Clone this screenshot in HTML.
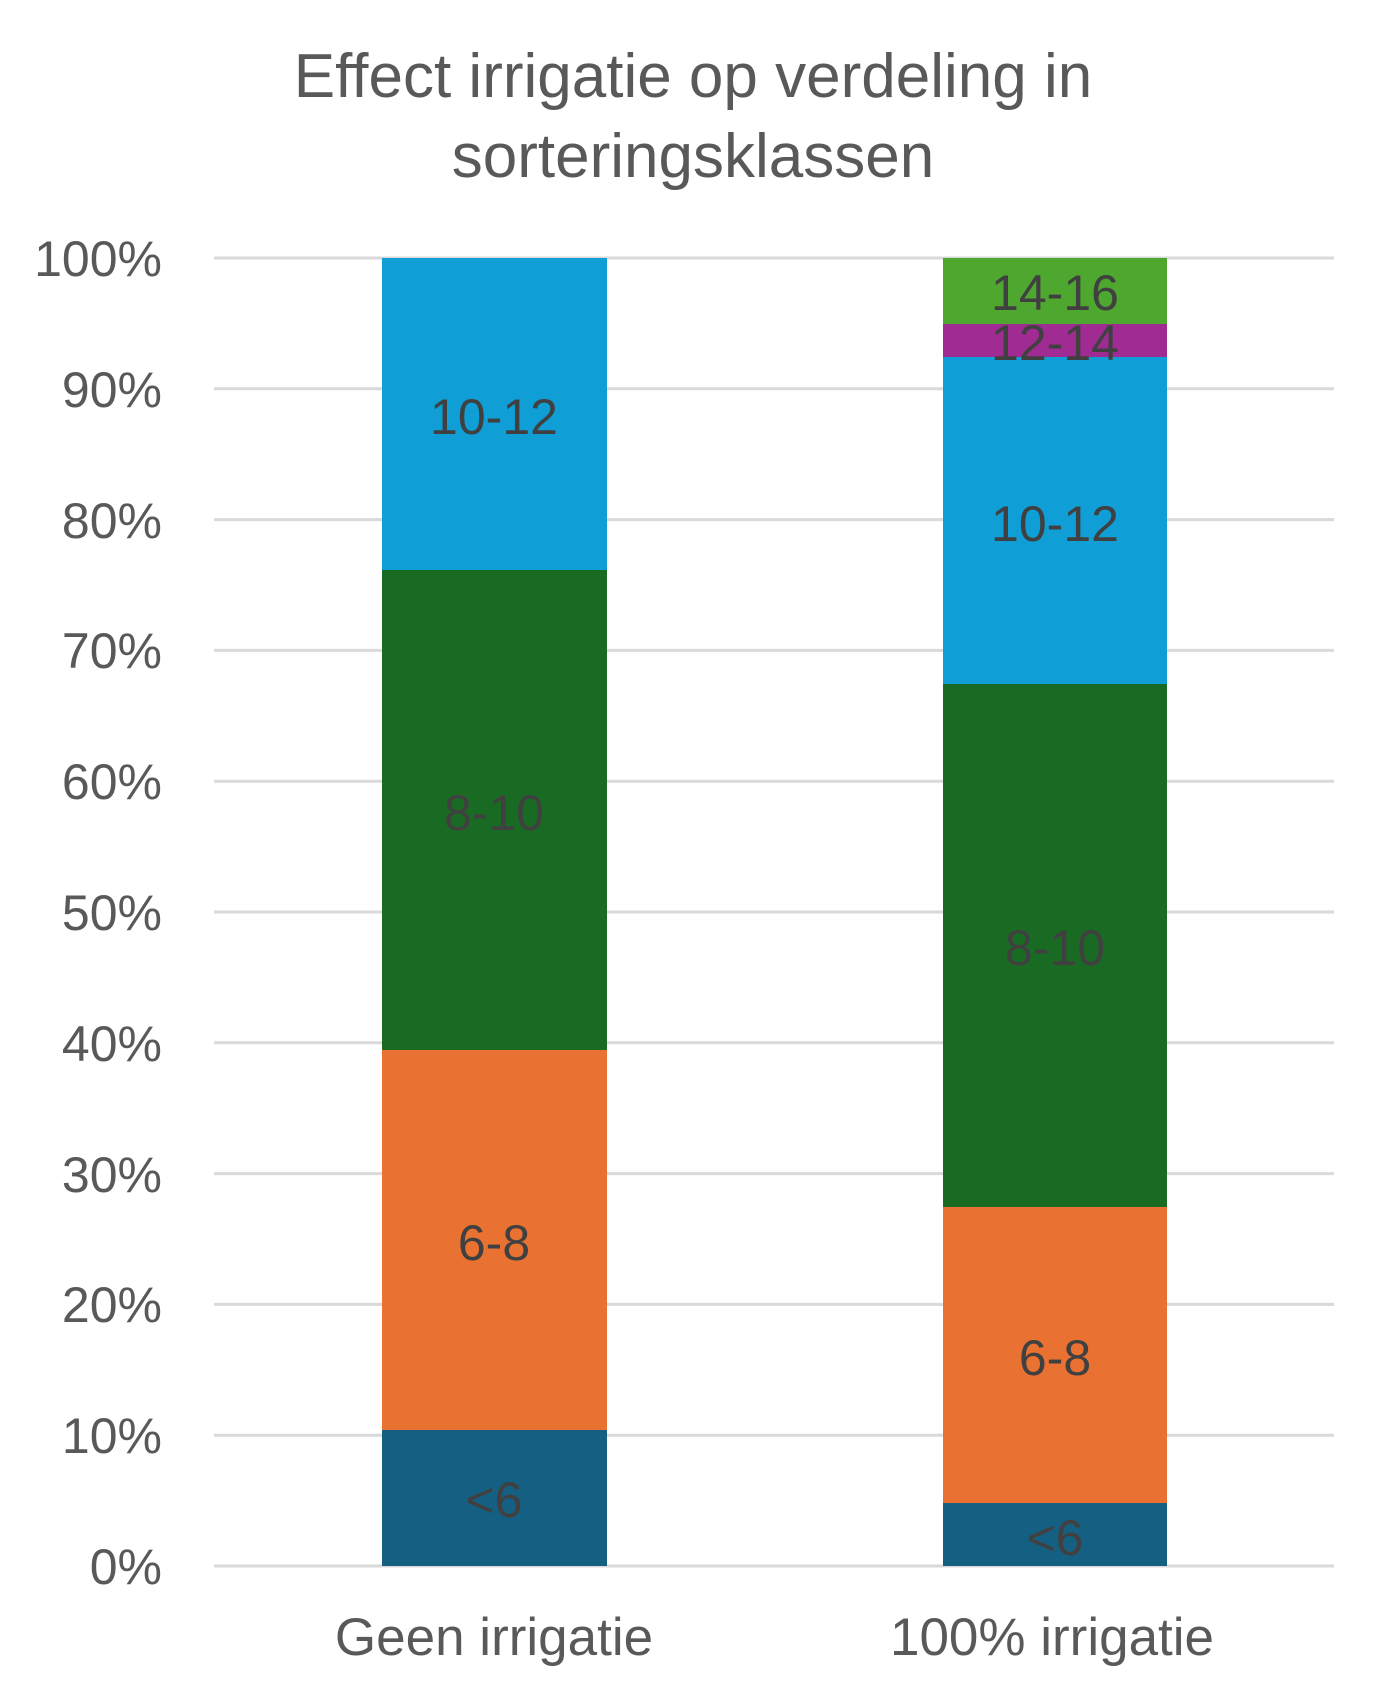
<!DOCTYPE html>
<html><head><style>html,body{margin:0;padding:0;background:#fff;}</style></head>
<body>
<svg width="1386" height="1699" xmlns="http://www.w3.org/2000/svg" font-family="Liberation Sans, sans-serif">
<rect width="1386" height="1699" fill="#fff"/>
<text x="693" y="97" font-size="62" fill="#595959" text-anchor="middle">Effect irrigatie op verdeling in</text>
<text x="693" y="177" font-size="62" fill="#595959" text-anchor="middle">sorteringsklassen</text>
<g stroke="#d9d9d9" stroke-width="3">
<line x1="214" x2="1334" y1="258" y2="258"/><line x1="214" x2="1334" y1="388.8" y2="388.8"/>
<line x1="214" x2="1334" y1="519.6" y2="519.6"/><line x1="214" x2="1334" y1="650.4" y2="650.4"/>
<line x1="214" x2="1334" y1="781.2" y2="781.2"/><line x1="214" x2="1334" y1="912" y2="912"/>
<line x1="214" x2="1334" y1="1042.8" y2="1042.8"/><line x1="214" x2="1334" y1="1173.6" y2="1173.6"/>
<line x1="214" x2="1334" y1="1304.4" y2="1304.4"/><line x1="214" x2="1334" y1="1435.2" y2="1435.2"/>
<line x1="214" x2="1334" y1="1566" y2="1566"/>
</g>
<g font-size="50" fill="#595959" text-anchor="end">
<text x="162" y="276">100%</text><text x="162" y="407">90%</text><text x="162" y="538">80%</text>
<text x="162" y="668">70%</text><text x="162" y="799">60%</text><text x="162" y="930">50%</text>
<text x="162" y="1061">40%</text><text x="162" y="1192">30%</text><text x="162" y="1322">20%</text>
<text x="162" y="1453">10%</text><text x="162" y="1584">0%</text>
</g>
<rect x="382" y="1430" width="225" height="136" fill="#156082"/>
<rect x="382" y="1050" width="225" height="380" fill="#E97132"/>
<rect x="382" y="570" width="225" height="480" fill="#196B24"/>
<rect x="382" y="258" width="225" height="312" fill="#0F9ED5"/>
<rect x="943" y="1503" width="224" height="63" fill="#156082"/>
<rect x="943" y="1207" width="224" height="296" fill="#E97132"/>
<rect x="943" y="684" width="224" height="523" fill="#196B24"/>
<rect x="943" y="357" width="224" height="327" fill="#0F9ED5"/>
<rect x="943" y="324" width="224" height="33" fill="#A02B93"/>
<rect x="943" y="258" width="224" height="66" fill="#4EA72E"/>
<g font-size="50" fill="#404040" text-anchor="middle">
<text x="494" y="1517">&lt;6</text><text x="494" y="1260">6-8</text>
<text x="494" y="830">8-10</text><text x="494" y="434">10-12</text>
<text x="1055" y="1555">&lt;6</text><text x="1055" y="1375">6-8</text>
<text x="1055" y="965">8-10</text><text x="1055" y="541">10-12</text>
<text x="1055" y="360">12-14</text><text x="1055" y="310">14-16</text>
</g>
<g font-size="53" fill="#595959" text-anchor="middle">
<text x="494" y="1655">Geen irrigatie</text>
<text x="1052" y="1655">100% irrigatie</text>
</g>
</svg>
</body></html>
